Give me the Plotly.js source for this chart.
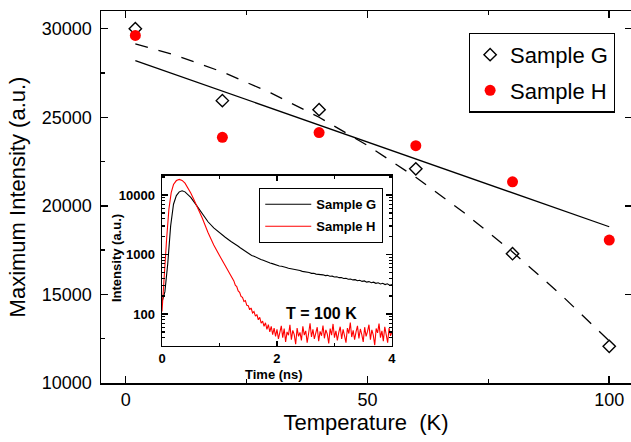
<!DOCTYPE html>
<html>
<head>
<meta charset="utf-8">
<script src="https://cdn.plot.ly/plotly-3.0.1.min.js"></script>
<style>html,body{margin:0;padding:0;background:#fff;}#chart{width:631px;height:442px;}</style>
</head>
<body>
<div id="chart"></div>
<script>
// ---- main chart data ----
var tempG = [2, 20, 40, 60, 80, 100];
var intG  = [30000, 25940, 25430, 22090, 17300, 12070];
var tempH = [2, 20, 40, 60, 80, 100];
var intH  = [29620, 23870, 24140, 23400, 21360, 18070];
var fitLinT = [2, 100];
var fitLinI = [28200, 18820];
var fitQuadT = [2, 10, 20, 30, 40, 50, 60, 70, 80, 90, 100];
var fitQuadI = [29150, 28530, 27560, 26380, 25000, 23410, 21610, 19610, 17400, 14990, 12370];
var yTicks = [10000, 15000, 20000, 25000, 30000];
var yTickText = ['10000', '15000', '20000', '25000', '30000'];
var xTicks = [0, 50, 100];

// ---- inset data (T = 100 K) ----
var timeG = [0, 0.05, 0.1, 0.15, 0.2, 0.25, 0.3, 0.35, 0.4, 0.45, 0.5, 0.6, 0.7, 0.8, 0.9, 1.0, 1.1,
  1.20, 1.24, 1.28, 1.32, 1.36, 1.40, 1.44, 1.48, 1.52, 1.56, 1.60, 1.64, 1.68, 1.72, 1.76, 1.80,
  1.84, 1.88, 1.92, 1.96, 2.00, 2.04, 2.08, 2.12, 2.16, 2.20, 2.24, 2.28, 2.32, 2.36, 2.40, 2.44,
  2.48, 2.52, 2.56, 2.60, 2.64, 2.68, 2.72, 2.76, 2.80, 2.84, 2.88, 2.92, 2.96, 3.00, 3.04, 3.08,
  3.12, 3.16, 3.20, 3.24, 3.28, 3.32, 3.36, 3.40, 3.44, 3.48, 3.52, 3.56, 3.60, 3.64, 3.68, 3.72,
  3.76, 3.80, 3.84, 3.88, 3.92, 3.96, 4.00];
var signalG = [160, 235, 700, 3000, 7000, 9800, 11300, 11800, 11300, 10200, 9100, 6700, 4800, 3550, 2800, 2300, 1950,
  1650, 1570, 1460, 1390, 1300, 1220, 1160, 1080, 1035, 965, 935, 890, 860, 825, 800, 765,
  752, 718, 702, 676, 662, 642, 633, 610, 606, 588, 579, 566, 560, 540, 537, 520, 516, 500, 497, 482,
  482, 468, 466, 452, 455, 442, 446, 430, 433, 418, 422, 408, 410, 395, 398, 384, 388, 374, 378,
  362, 369, 353, 360, 343, 350, 335, 343, 328, 335, 320, 328, 312, 322, 305, 313];

var timeH = [0, 0.04, 0.08, 0.12, 0.16, 0.2, 0.25, 0.3, 0.35, 0.4, 0.45, 0.5, 0.55, 0.6, 0.7, 0.8, 0.9,
  1.000, 1.025, 1.050, 1.075, 1.100, 1.125, 1.150, 1.175, 1.200, 1.225, 1.250, 1.275, 1.300, 1.325,
  1.350, 1.375, 1.400, 1.425, 1.450, 1.475, 1.500, 1.525, 1.550, 1.575, 1.600, 1.625, 1.650, 1.675,
  1.700, 1.725, 1.750, 1.775, 1.800, 1.825, 1.850, 1.875, 1.900, 1.925, 1.950, 1.975, 2.000, 2.025,
  2.050, 2.075, 2.100, 2.125, 2.150, 2.175, 2.200, 2.225, 2.250, 2.275, 2.300, 2.325, 2.350, 2.375,
  2.400, 2.425, 2.450, 2.475, 2.500, 2.525, 2.550, 2.575, 2.600, 2.625, 2.650, 2.675, 2.700, 2.725,
  2.750, 2.775, 2.800, 2.825, 2.850, 2.875, 2.900, 2.925, 2.950, 2.975, 3.000, 3.025, 3.050, 3.075,
  3.100, 3.125, 3.150, 3.175, 3.200, 3.225, 3.250, 3.275, 3.300, 3.325, 3.350, 3.375, 3.400, 3.425,
  3.450, 3.475, 3.500, 3.525, 3.550, 3.575, 3.600, 3.625, 3.650, 3.675, 3.700, 3.725, 3.750, 3.775,
  3.800, 3.825, 3.850, 3.875, 3.900, 3.925, 3.950, 3.975, 4.000];
var signalH = [110, 500, 1800, 5800, 11000, 15000, 17500, 18300, 17600, 15800, 13300, 10800, 8600, 6800, 4100, 2350, 1450,
  960, 870, 830, 745, 660, 610, 540, 495, 440, 395, 360, 305, 290, 245,
  232, 198, 190, 162, 168, 140, 138, 118, 126, 104, 110, 92, 98, 80,
  88, 70, 76, 62, 71, 55, 66, 50, 62, 45, 58, 42, 55, 38,
  52, 63, 40, 57, 34, 50, 44, 66, 37, 53, 45, 31, 58, 42,
  49, 36, 62, 44, 52, 33, 47, 70, 41, 55, 38, 48, 60, 35,
  51, 43, 64, 39, 54, 46, 32, 57, 44, 68, 40, 52, 36, 49,
  61, 38, 55, 43, 33, 58, 47, 72, 41, 53, 37, 50, 63, 39,
  56, 45, 34, 60, 42, 51, 66, 37, 54, 44, 30, 57, 48, 69,
  40, 52, 35, 61, 45, 33, 58, 43, 50];
var insetXTicks = [0, 2, 4];
var insetYTicks = [100, 1000, 10000];
var insetYTickText = ['100', '1000', '10000'];

var minorLog = [];
[10, 100, 1000, 10000].forEach(function (d) { for (var k = 2; k <= 9; k++) minorLog.push(k * d); });

var FONT = 'Liberation Sans, Arial, Helvetica, sans-serif';

var traces = [
  {x: fitQuadT, y: fitQuadI, xaxis: 'x', yaxis: 'y', mode: 'lines', showlegend: false,
   line: {color: '#000', width: 1.3, dash: '13px,11px'}},
  {x: fitLinT, y: fitLinI, xaxis: 'x', yaxis: 'y', mode: 'lines', showlegend: false,
   line: {color: '#000', width: 1.3}},
  {x: tempG, y: intG, xaxis: 'x', yaxis: 'y', mode: 'markers', name: 'Sample G', legend: 'legend', legendgroup: 'g',
   marker: {symbol: 'diamond-open', size: 9.5, color: '#000', line: {width: 1.4, color: '#000'}}},
  {x: tempH, y: intH, xaxis: 'x', yaxis: 'y', mode: 'markers', name: 'Sample H', legend: 'legend', legendgroup: 'h',
   marker: {symbol: 'circle', size: 11, color: '#ff0000', line: {width: 0}}},
  {x: [], y: [], xaxis: 'x', yaxis: 'y4', mode: 'markers', showlegend: false},
  {x: timeG, y: signalG, xaxis: 'x2', yaxis: 'y3', mode: 'lines', name: '<b>Sample G</b>', legend: 'legend2', legendgroup: 'ig',
   line: {color: '#000', width: 1.1}},
  {x: timeH, y: signalH, xaxis: 'x2', yaxis: 'y3', mode: 'lines', name: '<b>Sample H</b>', legend: 'legend2', legendgroup: 'ih',
   line: {color: '#ff0000', width: 1.1}}
];

var axisCommon = {showline: true, linecolor: '#000', linewidth: 1.5, ticks: 'inside', tickcolor: '#000',
  tickwidth: 1.5, showgrid: false, zeroline: false};

var layout = {
  width: 631, height: 442,
  margin: {l: 101, r: 0, t: 11, b: 59},
  paper_bgcolor: '#fff', plot_bgcolor: '#fff',
  font: {family: FONT, color: '#000'},
  xaxis: Object.assign({}, axisCommon, {
    domain: [0, 1], range: [-5.1, 104.5], tickvals: xTicks, ticktext: xTicks.map(String), ticklen: 7, mirror: 'ticks',
    minor: {tickvals: [25, 75], ticklen: 4, ticks: 'inside', tickcolor: '#000', tickwidth: 1.5},
    tickfont: {size: 18, family: FONT}, ticklabelstandoff: 0,
    title: {text: 'Temperature  (K)', font: {size: 22, family: FONT}, standoff: 4}
  }),
  yaxis: Object.assign({}, axisCommon, {
    domain: [0, 1], range: [10000, 31000], tickvals: yTicks, ticktext: yTickText, ticklen: 7,
    minor: {tickvals: [12500, 17500, 22500, 27500], ticklen: 4, ticks: 'inside', tickcolor: '#000', tickwidth: 1.5},
    tickfont: {size: 18, family: FONT}, ticklabelstandoff: 4,
    title: {text: 'Maximum Intensity (a.u.)', font: {size: 22, family: FONT}, standoff: 10}
  }),
  yaxis4: {overlaying: 'y', side: 'right', range: [10000, 31000], tickvals: yTicks,
    ticks: 'inside', ticklen: 6, tickwidth: 1.5, tickcolor: '#000', showticklabels: false, showline: false,
    showgrid: false, zeroline: false},
  xaxis2: Object.assign({}, axisCommon, {
    domain: [0.1151, 0.549], anchor: 'y3', range: [0, 4], tickvals: insetXTicks, ticktext: insetXTicks.map(String),
    ticklen: 5, mirror: 'ticks',
    minor: {tickvals: [1, 3], ticklen: 3, ticks: 'inside', tickcolor: '#000', tickwidth: 1.3},
    tickfont: {size: 13, family: FONT, weight: 'bold'}, ticklabelstandoff: 0
  }),
  yaxis3: Object.assign({}, axisCommon, {
    domain: [0.1003, 0.5565], anchor: 'x2', type: 'log', range: [1.467, 4.32],
    tickvals: insetYTicks, ticktext: insetYTickText, ticklen: 6, mirror: 'ticks',
    minor: {tickvals: minorLog, ticklen: 3, ticks: 'inside', tickcolor: '#000', tickwidth: 1.3},
    tickfont: {size: 13, family: FONT, weight: 'bold'}, ticklabelstandoff: 3
  }),
  legend: {x: 0.694, y: 0.942, xanchor: 'left', yanchor: 'top', bgcolor: '#fff', bordercolor: '#000', borderwidth: 1.3,
    font: {size: 22, family: FONT}, tracegroupgap: 4, itemwidth: 30},
  legend2: {x: 0.298, y: 0.524, xanchor: 'left', yanchor: 'top', bgcolor: '#fff', bordercolor: '#000', borderwidth: 1.3,
    font: {size: 13, family: FONT}, tracegroupgap: 2, itemwidth: 46},
  annotations: [
    {xref: 'paper', yref: 'paper', x: 0.4164, y: 0.1874, text: '<b>T = 100 K</b>', showarrow: false,
     font: {size: 16, family: FONT}, xanchor: 'center', yanchor: 'middle'},
    {xref: 'paper', yref: 'paper', x: 0.3264, y: 0.0225, text: '<b>Time (ns)</b>', showarrow: false,
     font: {size: 13, family: FONT}, xanchor: 'center', yanchor: 'middle'},
    {xref: 'paper', yref: 'paper', x: 0.0283, y: 0.336, text: '<b>Intensity (a.u.)</b>', showarrow: false, textangle: -90,
     font: {size: 13, family: FONT}, xanchor: 'center', yanchor: 'middle'}
  ]
};

Plotly.newPlot('chart', traces, layout, {displayModeBar: false, staticPlot: true});
</script>
</body>
</html>
